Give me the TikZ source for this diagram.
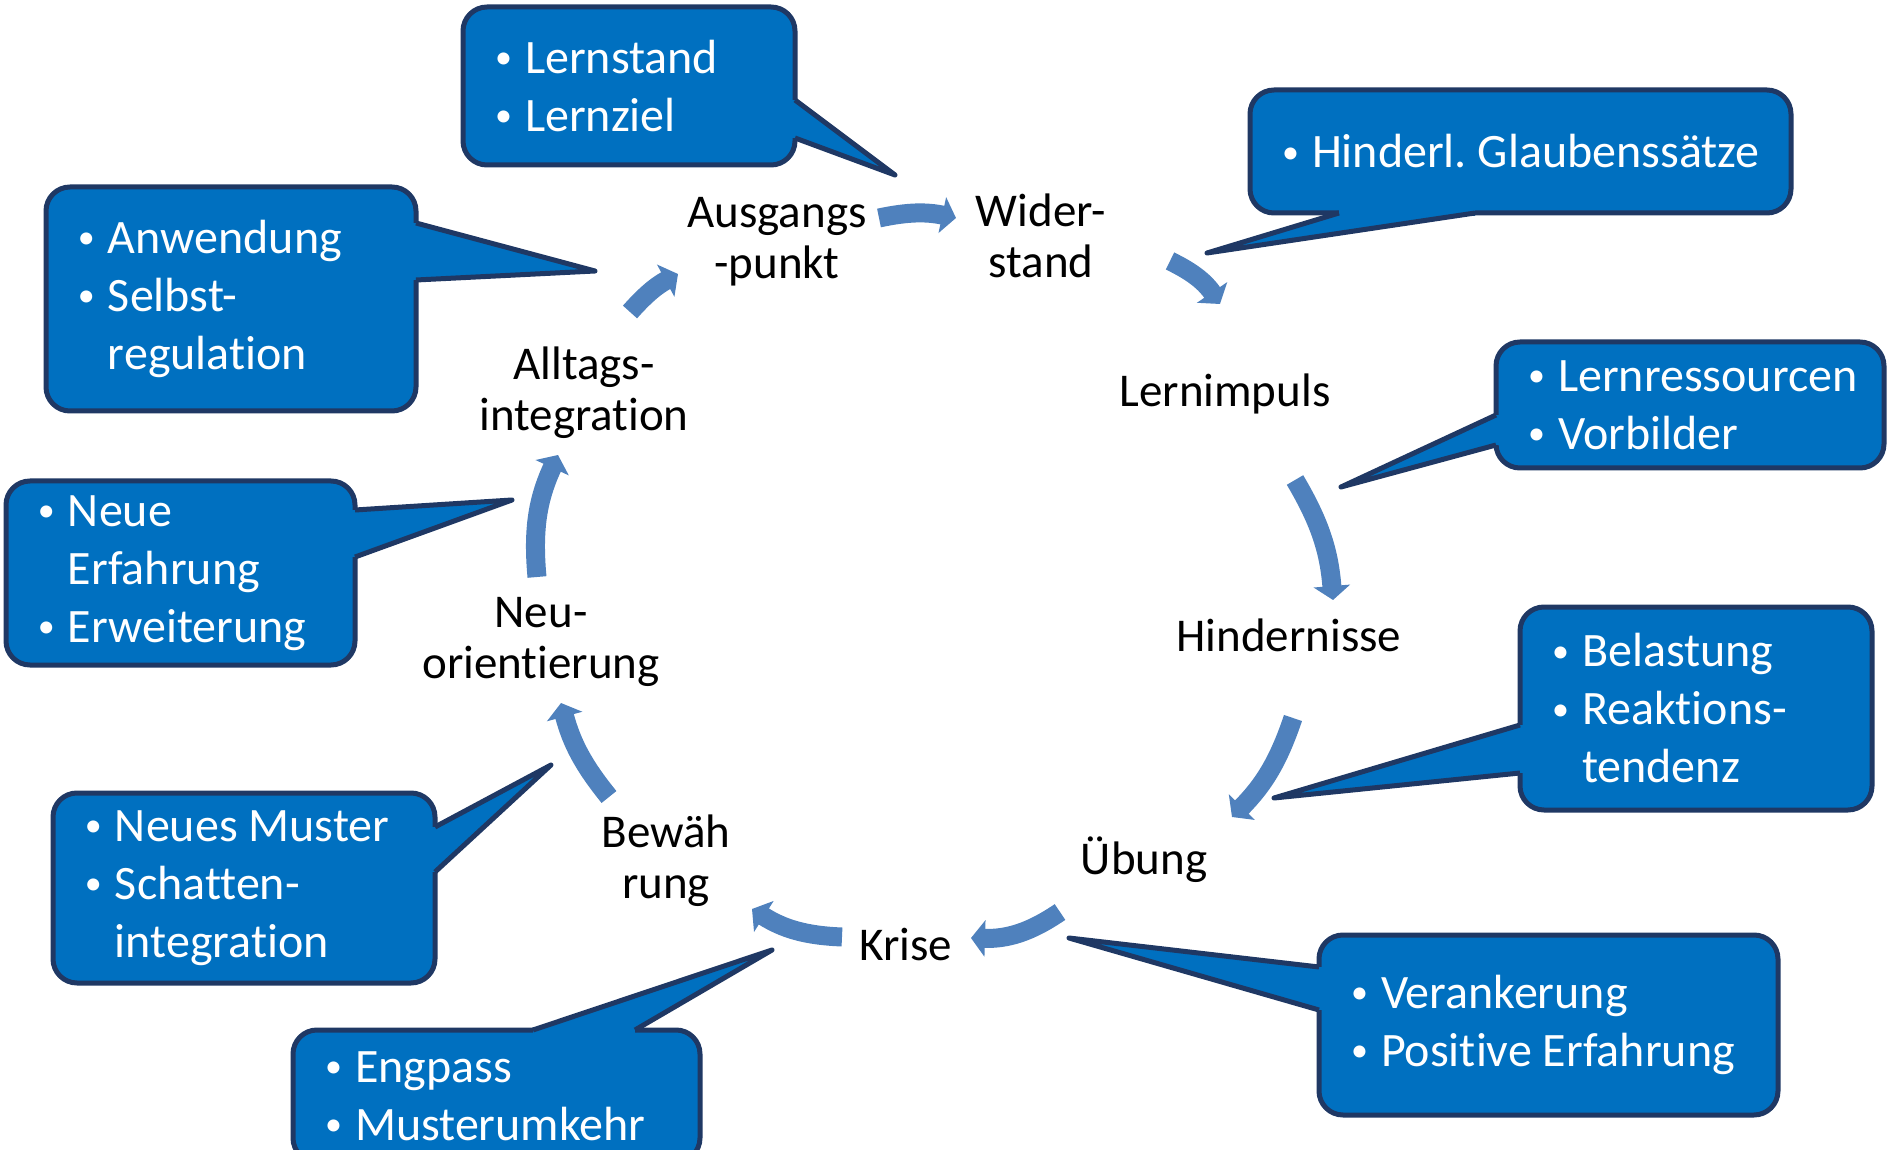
\documentclass[tikz,border=0pt]{standalone}
\usepackage{fontspec}
\setmainfont{Carlito}[Ligatures=NoCommon]
\usetikzlibrary{arrows.meta}

\definecolor{bubblefill}{HTML}{0070C0}
\definecolor{bubbleline}{HTML}{1F3864}
\definecolor{flowblue}{HTML}{4F81BD}

\newcommand\itm[1]{\makebox[16.5pt][l]{\hspace{1.5pt}\raisebox{2.3pt}{\fontsize{17}{17}\selectfont\textbullet}}\mbox{\frenchspacing\spaceskip=0pt\xspaceskip=0pt #1}}
\newcommand\cont[1]{\hspace*{16.5pt}\mbox{#1}}

\begin{document}
\begin{tikzpicture}
  [x=0.5pt,y=-0.5pt,
   phase/.style={align=center,inner sep=0pt,font=\fontsize{23.5}{25.5}\selectfont},
   bubble/.style={rectangle,rounded corners=12pt,fill=bubblefill,draw=bubbleline,line width=2.5pt,
     outer sep=0pt,inner xsep=14.5pt,inner ysep=0pt,anchor=north west,align=left,text=white,
     font=\fontsize{24}{29}\selectfont},
   flow/.style={draw=flowblue,line width=9.5pt,-{Triangle[width=18pt,length=7pt]}},
   pointerline/.style={draw=bubbleline,line width=2.5pt,line join=round}]
  \useasboundingbox (0,0) rectangle (1887,1150);

  % phases of the cycle
  \node[phase] (ausg) at (777,242) {Ausgangs\\-punkt};
  \node[phase] (wider) at (1041,235.5) {Wider-\\stand};
  \node[phase] (lernimp) at (1225,393.5) {Lernimpuls};
  \node[phase] (hind) at (1289,635.5) {Hindernisse};
  \node[phase] (uebung) at (1144,859.5) {Übung};
  \node[phase] (krise) at (906,945) {Krise};
  \node[phase] (bew) at (666,861) {Bewäh\\rung};
  \node[phase] (neu) at (541,641.5) {Neu-\\orientierung};
  \node[phase] (allt) at (584,392.5) {Alltags-\\integration};

  % speech bubbles
  \node[bubble,text width=137pt,minimum height=79pt] (b1) at (463,7) {\itm{Lernstand}\\\itm{Lernziel}};
  \node[bubble,text width=241.5pt,minimum height=61.5pt] (b2) at (1250,90) {\itm{Hinderl. Glaubenssätze}};
  \node[bubble,text width=156pt,minimum height=112pt] (b3) at (46,187) {\itm{Anwendung}\\\itm{Selbst-}\\\cont{regulation}};
  \node[bubble,text width=145.5pt,minimum height=92pt] (b4) at (6,481) {\itm{Neue}\\\cont{Erfahrung}\\\itm{Erweiterung}};
  \node[bubble,text width=165pt,minimum height=63pt] (b5) at (1496,342) {\itm{Lernressourcen}\\\itm{Vorbilder}};
  \node[bubble,text width=147pt,minimum height=101.5pt] (b6) at (1520,607) {\itm{Belastung}\\\itm{Reaktions-}\\\cont{tendenz}};
  \node[bubble,text width=162pt,minimum height=95pt] (b7) at (53,793) {\itm{Neues Muster}\\\itm{Schatten-}\\\cont{integration}};
  \node[bubble,text width=174.5pt,minimum height=66pt] (b8) at (293,1030) {\itm{Engpass}\\\itm{Musterumkehr}};
  \node[bubble,text width=200.5pt,minimum height=90pt] (b9) at (1319,935) {\itm{Verankerung}\\\itm{Positive Erfahrung}};

  % pointer bases and tips
  \coordinate (b1-a) at ([yshift=-46.5pt]b1.north east);
  \coordinate (b1-b) at ([yshift=-65.5pt]b1.north east);
  \coordinate (b1-tip) at (895,175);
  \coordinate (b2-a) at ([xshift=44.5pt]b2.south west);
  \coordinate (b2-b) at ([xshift=112.5pt]b2.south west);
  \coordinate (b2-tip) at (1207,253);
  \coordinate (b3-a) at ([yshift=-18pt]b3.north east);
  \coordinate (b3-b) at ([yshift=-46.5pt]b3.north east);
  \coordinate (b3-tip) at (595,271);
  \coordinate (b4-a) at ([yshift=-14.5pt]b4.north east);
  \coordinate (b4-b) at ([yshift=-38pt]b4.north east);
  \coordinate (b4-tip) at (512,500);
  \coordinate (b5-a) at ([yshift=-36.5pt]b5.north west);
  \coordinate (b5-b) at ([yshift=-51.5pt]b5.north west);
  \coordinate (b5-tip) at (1341,487);
  \coordinate (b6-a) at ([yshift=-59pt]b6.north west);
  \coordinate (b6-b) at ([yshift=-83pt]b6.north west);
  \coordinate (b6-tip) at (1274,798);
  \coordinate (b7-a) at ([yshift=-17pt]b7.north east);
  \coordinate (b7-b) at ([yshift=-39.5pt]b7.north east);
  \coordinate (b7-tip) at (551,765);
  \coordinate (b8-a) at ([xshift=120pt]b8.north west);
  \coordinate (b8-b) at ([xshift=171pt]b8.north west);
  \coordinate (b8-tip) at (772,950);
  \coordinate (b9-a) at ([yshift=-16pt]b9.north west);
  \coordinate (b9-b) at ([yshift=-37.5pt]b9.north west);
  \coordinate (b9-tip) at (1069,938);

  \foreach \n in {b1,b2,b3,b4,b5,b6,b7,b8,b9}
  {
    \fill[bubblefill] (\n-a) -- (\n-tip) -- (\n-b) -- cycle;
    \draw[bubblefill,line width=3pt] (\n-a) -- (\n-b);
    \draw[pointerline] (\n-a) -- (\n-tip) -- (\n-b);
  }

  % arrows round the cycle
  \foreach \from/\fx/\fy/\to/\tx/\ty/\bend in
    {ausg/51/12/wider/-42.5/8.75/12, wider/64.5/-12.75/lernimp/-2.5/44.75/15,
     lernimp/35/-43.25/hind/22/17.75/13, hind/2/-41.25/uebung/44/21.25/13,
     uebung/-42/-26.25/krise/32.5/3.5/18, krise/-32/4/bew/43/-24/15,
     bew/-28.5/32/neu/10/-30.75/12, neu/-2/32.25/allt/-13/-31.25/15,
     allt/23/40.25/ausg/-49.5/-16/10}
    \draw[flow] ([xshift=\fx pt,yshift=\fy pt]\from.center) to[bend left=\bend] ([xshift=\tx pt,yshift=\ty pt]\to.center);
\end{tikzpicture}
\end{document}
